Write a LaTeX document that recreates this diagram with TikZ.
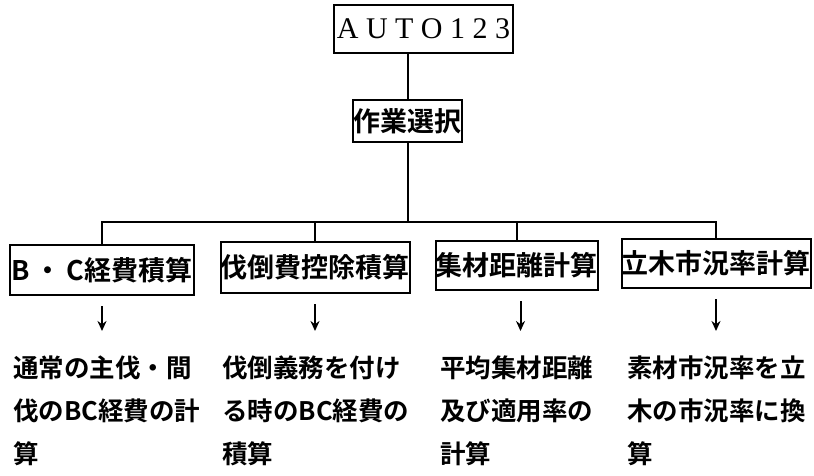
\documentclass[tikz,border=0pt]{standalone}
\usepackage{fontspec}
\setmainfont{Liberation Serif}
\newfontfamily\cjk{Noto Sans CJK JP}
\newfontfamily\cjkb{Noto Sans CJK JP Bold}
\usetikzlibrary{arrows.meta}
\tikzset{
  line/.style={line width=2pt},
  boxnode/.style={draw, line width=2pt, inner sep=0pt, minimum height=#1, font=\cjkb\fontsize{27}{30}\selectfont},
  arr/.style={line width=2pt, -{Stealth[length=10pt,width=9pt]}, shorten <=10pt, shorten >=25pt},
  desc/.style={anchor=north west, inner sep=0pt, align=left, font=\cjkb\fontsize{25.5}{43}\selectfont}
}
\begin{document}
\begin{tikzpicture}[x=1pt,y=-1pt]
\useasboundingbox[fill=white] (0,0) rectangle (814,475);
\node[boxnode=48pt, minimum width=179pt, font=\rmfamily\fontsize{30}{32}\selectfont] (auto) at (423.5,29)
  {A\hspace{7.5pt}U\hspace{7.5pt}T\hspace{7.5pt}O\hspace{7.5pt}1\hspace{7.5pt}2\hspace{7.5pt}3};
\node[boxnode=42pt, minimum width=109pt] (sel) at (407.5,121) {作業選択};
\node[boxnode=50pt, minimum width=184pt] (b1) at (102,270) {B\,・\,C経費積算};
\node[boxnode=51pt, minimum width=188pt] (b2) at (315,267.5) {伐倒費控除積算};
\node[boxnode=49pt, minimum width=161pt] (b3) at (516.5,265.5) {集材距離計算};
\node[boxnode=49pt, minimum width=186pt] (b4) at (716,263.5) {立木市況率計算};
\coordinate (bar) at (407.5,222);
\draw[line] (sel.north) -- (sel.north |- auto.south);
\draw[line] (sel.south) -- (bar);
\draw[line] (b1.north) -- (b1.north |- bar) -- (b4.north |- bar) -- (b4.north);
\draw[line] (b2.north) -- (b2.north |- bar);
\draw[line] (b3.north) -- (b3.north |- bar);
\node[desc] (t1) at (13,356) {通常の主伐・間\\伐のBC経費の計\\算};
\node[desc] (t2) at (222,356) {伐倒義務を付け\\る時のBC経費の\\積算};
\node[desc] (t3) at (440,356) {平均集材距離\\及び適用率の\\計算};
\node[desc] (t4) at (627,356) {素材市況率を立\\木の市況率に換\\算};
\draw[arr] (b1.south) -- (b1.south |- t1.north);
\draw[arr] (b2.south) -- (b2.south |- t2.north);
\draw[arr] ([xshift=4pt]b3.south) -- ([xshift=4pt]b3.south |- t3.north);
\draw[arr] (b4.south) -- (b4.south |- t4.north);
\end{tikzpicture}
\end{document}
